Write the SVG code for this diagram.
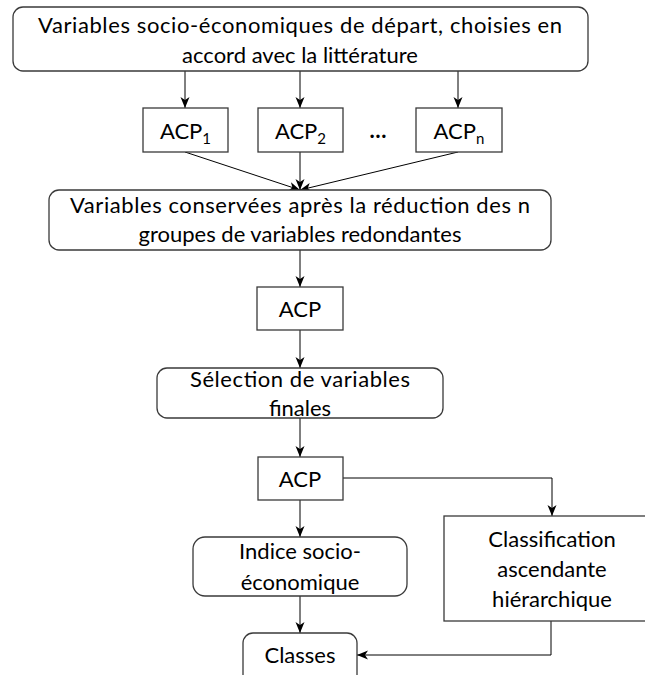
<svg xmlns="http://www.w3.org/2000/svg" width="645" height="675" viewBox="0 0 645 675">
<style>
.box{fill:#fff;stroke:#3a3a3a;stroke-width:1.3}
.t{font-family:Lato,"Liberation Sans",sans-serif;font-size:22px;fill:#000;text-anchor:middle}
.sub{font-size:15px}
.c{fill:none;stroke:#000;stroke-width:1}
</style>
<defs>
<marker id="ah" markerUnits="userSpaceOnUse" markerWidth="12" markerHeight="12" viewBox="0 0 12 12" refX="11" refY="6" orient="auto">
<path d="M0,1.5 L11,6 L0,10.5 L3,6 z" fill="#000"/>
</marker>
</defs>
<rect width="645" height="675" fill="#fff"/>
<g id="connectors">
<line class="c" x1="185" y1="71" x2="185" y2="108" marker-end="url(#ah)"/>
<line class="c" x1="300" y1="71" x2="300" y2="108" marker-end="url(#ah)"/>
<line class="c" x1="458" y1="71" x2="458" y2="108" marker-end="url(#ah)"/>
<line class="c" x1="185" y1="152" x2="300" y2="190" marker-end="url(#ah)"/>
<line class="c" x1="300" y1="152" x2="300" y2="190" marker-end="url(#ah)"/>
<line class="c" x1="458" y1="152" x2="300" y2="190" marker-end="url(#ah)"/>
<line class="c" x1="300" y1="250" x2="300" y2="287" marker-end="url(#ah)"/>
<line class="c" x1="300" y1="330" x2="300" y2="368" marker-end="url(#ah)"/>
<line class="c" x1="300" y1="418" x2="300" y2="457" marker-end="url(#ah)"/>
<line class="c" x1="300" y1="500" x2="300" y2="537" marker-end="url(#ah)"/>
<polyline class="c" points="343,478 552,478 552,516" marker-end="url(#ah)"/>
<line class="c" x1="300" y1="596" x2="300" y2="633" marker-end="url(#ah)"/>
<polyline class="c" points="551,621 551,655 357,655" marker-end="url(#ah)"/>
</g>
<g id="depart">
<rect class="box" x="13" y="7" width="575" height="64" rx="10"/>
<text class="t" x="300" y="33" textLength="524">Variables socio-économiques de départ, choisies en</text>
<text class="t" x="300" y="63">accord avec la littérature</text>
</g>
<g id="acp1">
<rect class="box" x="143" y="108" width="85" height="44"/>
<text class="t" x="185.5" y="139">ACP<tspan class="sub" dy="5">1</tspan></text>
</g>
<g id="acp2">
<rect class="box" x="258" y="108" width="85" height="44"/>
<text class="t" x="300.5" y="139">ACP<tspan class="sub" dy="5">2</tspan></text>
</g>
<g id="ellipsis">
<text class="t" x="378" y="138" font-weight="bold">…</text>
</g>
<g id="acpn">
<rect class="box" x="416" y="108" width="86" height="44"/>
<text class="t" x="459" y="139">ACP<tspan class="sub" dy="5">n</tspan></text>
</g>
<g id="conservees">
<rect class="box" x="49" y="190" width="502" height="60" rx="10"/>
<text class="t" x="300" y="213" textLength="460">Variables conservées après la réduction des n</text>
<text class="t" x="300" y="242">groupes de variables redondantes</text>
</g>
<g id="acp-a">
<rect class="box" x="257" y="287" width="86" height="43"/>
<text class="t" x="300" y="317">ACP</text>
</g>
<g id="selection">
<rect class="box" x="157" y="368" width="286" height="50" rx="10"/>
<text class="t" x="300" y="387" textLength="220">Sélection de variables</text>
<text class="t" x="300" y="416">finales</text>
</g>
<g id="acp-b">
<rect class="box" x="258" y="457" width="85" height="43"/>
<text class="t" x="300" y="487">ACP</text>
</g>
<g id="indice">
<rect class="box" x="193" y="537" width="214" height="59" rx="12"/>
<text class="t" x="300" y="559">Indice socio-</text>
<text class="t" x="300" y="590">économique</text>
</g>
<g id="cah">
<rect class="box" x="444" y="516" width="216" height="105"/>
<text class="t" x="552" y="547">Classification</text>
<text class="t" x="552" y="577">ascendante</text>
<text class="t" x="552" y="607">hiérarchique</text>
</g>
<g id="classes">
<rect class="box" x="243" y="633" width="114" height="52" rx="10"/>
<text class="t" x="300" y="663">Classes</text>
</g>
</svg>
